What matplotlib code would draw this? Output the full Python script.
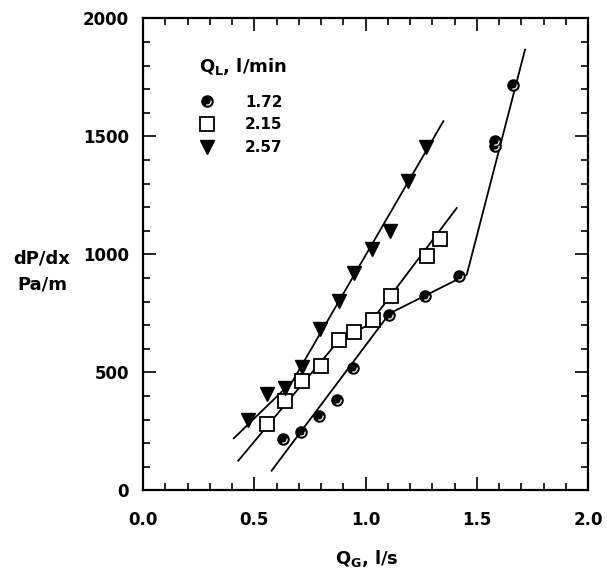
import matplotlib
matplotlib.use('Agg')
import matplotlib.pyplot as plt
from matplotlib.path import Path
from matplotlib.ticker import MultipleLocator, FormatStrFormatter

plt.rcParams['font.family'] = 'DejaVu Sans'
plt.rcParams['font.weight'] = 'bold'
plt.rcParams['mathtext.fontset'] = 'custom'
plt.rcParams['mathtext.rm'] = 'DejaVu Sans:bold'
plt.rcParams['mathtext.it'] = 'DejaVu Sans:bold'
plt.rcParams['mathtext.bf'] = 'DejaVu Sans:bold'

# measured points, Q_L = 1.72, 2.15, 2.57 l/min
qg_172 = [0.628, 0.710, 0.791, 0.871, 0.945, 1.106, 1.268, 1.422, 1.582, 1.582, 1.664]
dp_172 = [217, 248, 315, 385, 518, 744, 824, 907, 1480, 1459, 1717]
qg_215 = [0.556, 0.637, 0.716, 0.799, 0.880, 0.950, 1.032, 1.114, 1.275, 1.337]
dp_215 = [282, 381, 466, 527, 637, 671, 723, 824, 993, 1066]
qg_257 = [0.474, 0.556, 0.638, 0.715, 0.794, 0.879, 0.949, 1.029, 1.112, 1.191, 1.272]
dp_257 = [299, 410, 433, 523, 685, 801, 921, 1025, 1098, 1312, 1456]
labels = ['1.72', '2.15', '2.57']

# fitted line segments (x pairs, y pairs)
fit_172 = [([0.578, 1.108, 1.455, 1.717], [84, 750, 914, 1868])]
fit_215 = [([0.428, 0.880], [126, 636]),
           ([0.880, 1.050], [636, 720]),
           ([1.020, 1.410], [709, 1197])]
fit_257 = [([0.408, 0.672, 1.350], [221, 463, 1565])]

fig = plt.figure(figsize=(6.07, 5.74), dpi=100)
ax = fig.add_axes([0.2356, 0.1455, 0.7331, 0.8223])

for seg in fit_172 + fit_215 + fit_257:
    ax.plot(seg[0], seg[1], color='black', lw=1.3, zorder=2)

h1, = ax.plot(qg_172, dp_172, ls='none', marker='o', ms=8, mfc='black',
              mec='black', mew=1.0, zorder=3)
arc = Path.arc(-110, 15)
h1b, = ax.plot(qg_172, dp_172, ls='none', marker=arc, ms=5.2, mfc='none',
               mec='white', mew=0.9, zorder=4)
h2, = ax.plot(qg_215, dp_215, ls='none', marker='s', ms=9.5, mfc='white',
              mec='black', mew=1.3, zorder=3)
h3, = ax.plot(qg_257, dp_257, ls='none', marker='v', ms=9.5, mfc='black',
              mec='black', zorder=3)

ax.set_xlim(0, 2.0)
ax.set_ylim(0, 2000)
ax.xaxis.set_major_locator(MultipleLocator(0.5))
ax.xaxis.set_minor_locator(MultipleLocator(0.1))
ax.yaxis.set_major_locator(MultipleLocator(500))
ax.yaxis.set_minor_locator(MultipleLocator(100))
ax.xaxis.set_major_formatter(FormatStrFormatter('%.1f'))
ax.yaxis.set_major_formatter(FormatStrFormatter('%d'))

ax.tick_params(which='both', direction='in', top=True, right=True, width=1.2,
               labelsize=12)
ax.tick_params(which='major', length=9.5)
ax.tick_params(which='minor', length=5)
ax.tick_params(axis='x', pad=15)
ax.tick_params(axis='y', pad=10)
for sp in ax.spines.values():
    sp.set_linewidth(1.6)

ax.set_xlabel('$Q_G$, l/s', fontsize=13, fontweight='bold')
ax.xaxis.set_label_coords(0.503, -0.122)
ax.set_ylabel('dP/dx\nPa/m', fontsize=13, fontweight='bold', rotation=0,
              ha='center', va='center', linespacing=1.6)
ax.yaxis.set_label_coords(-0.227, 0.464)

leg = ax.legend(handles=[(h1, h1b), h2, h3], labels=labels, title='$Q_L$, l/min',
                loc='upper left', bbox_to_anchor=(0.126, 0.921), frameon=False,
                borderpad=0, borderaxespad=0, handlelength=1.0, handletextpad=2.0,
                labelspacing=0.5, alignment='left',
                prop={'size': 11, 'weight': 'bold'},
                title_fontproperties={'size': 13, 'weight': 'bold'})
# wider gap between the title and the entries
leg._legend_box.sep = 13

fig.savefig('out.png', dpi=100)
